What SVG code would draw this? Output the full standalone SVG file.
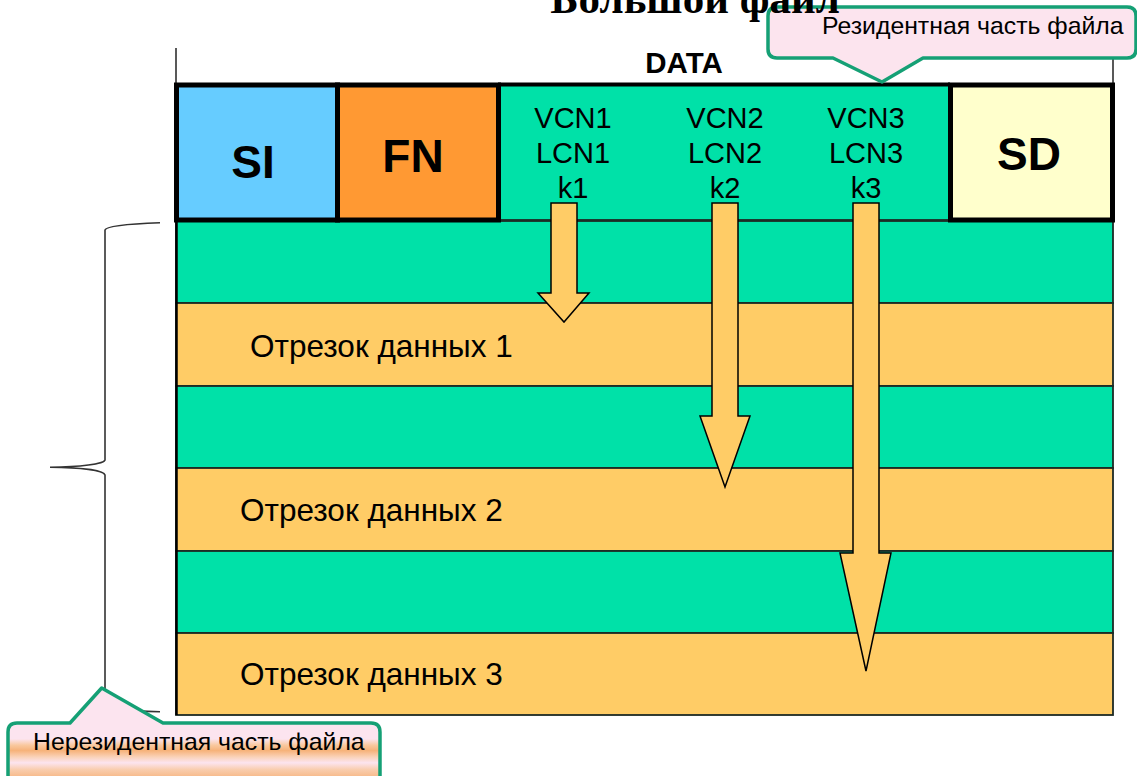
<svg xmlns="http://www.w3.org/2000/svg" width="1137" height="776" viewBox="0 0 1137 776">
<style>
.stripe-g{fill:#00E1A8;stroke:#1c2a24;stroke-width:1.8}
.stripe-o{fill:#FFCC66;stroke:#1c2a24;stroke-width:1.8}
.hdr{stroke:#000;stroke-width:5}
.big{font-family:"Liberation Sans",Arial,sans-serif;font-weight:bold;font-size:46px;fill:#000;text-anchor:middle}
.lbl{font-family:"Liberation Sans",Arial,sans-serif;font-size:29px;fill:#000;text-anchor:middle}
.seg{font-family:"Liberation Sans",Arial,sans-serif;font-size:31.5px;fill:#000}
.call{font-family:"Liberation Sans",Arial,sans-serif;font-size:24.8px;fill:#000}
.arrow{fill:#FFCC66;stroke:#000;stroke-width:1.5;stroke-linejoin:miter}
.callout{stroke:#15A075;stroke-width:3.5;stroke-linejoin:round}
.thin{stroke:#222;stroke-width:1.5;fill:none}
</style>
<defs>
<linearGradient id="gb" gradientUnits="userSpaceOnUse" x1="0" y1="723" x2="0" y2="776">
<stop offset="0" stop-color="#FCE4EF"/>
<stop offset="0.3" stop-color="#FCE4EF"/>
<stop offset="0.42" stop-color="#F9C89E"/>
<stop offset="0.52" stop-color="#F6B27A"/>
<stop offset="0.64" stop-color="#FAD2B8"/>
<stop offset="0.75" stop-color="#FCE4EF"/>
<stop offset="0.88" stop-color="#F9CDAE"/>
<stop offset="1" stop-color="#F7BC8E"/>
</linearGradient>
</defs>
<rect width="1137" height="776" fill="#fff"/>

<g id="frame-lines">
<line class="thin" x1="176" y1="48" x2="176" y2="84"/>
<line class="thin" x1="1113" y1="48" x2="1113" y2="84"/>
</g>

<g id="stripe1"><rect class="stripe-g" x="176" y="221" width="937" height="82"/></g>
<g id="seg1"><rect class="stripe-o" x="176" y="303" width="937" height="83"/><text class="seg" x="250" y="357">Отрезок данных 1</text></g>
<g id="stripe2"><rect class="stripe-g" x="176" y="386" width="937" height="82"/></g>
<g id="seg2"><rect class="stripe-o" x="176" y="468" width="937" height="83"/><text class="seg" x="240" y="521">Отрезок данных 2</text></g>
<g id="stripe3"><rect class="stripe-g" x="176" y="551" width="937" height="82"/></g>
<g id="seg3"><rect class="stripe-o" x="176" y="633" width="937" height="82"/><text class="seg" x="240" y="685">Отрезок данных 3</text></g>
<line x1="176.5" y1="221" x2="176.5" y2="715" stroke="#000" stroke-width="2.5"/>

<g id="data-label"><text class="big" x="684" y="73" style="font-size:29.5px">DATA</text></g>

<g id="data">
<rect x="498" y="85" width="452" height="135" fill="#00E1A8" stroke="#1c2a24" stroke-width="1.8"/>
<line x1="498" y1="84.5" x2="950" y2="84.5" stroke="#000" stroke-width="4"/>
<text class="lbl" x="573" y="128">VCN1</text>
<text class="lbl" x="573" y="163">LCN1</text>
<text class="lbl" x="573" y="198">k1</text>
<text class="lbl" x="725" y="128">VCN2</text>
<text class="lbl" x="725" y="163">LCN2</text>
<text class="lbl" x="725" y="198">k2</text>
<text class="lbl" x="866" y="128">VCN3</text>
<text class="lbl" x="866" y="163">LCN3</text>
<text class="lbl" x="866" y="198">k3</text>
</g>
<g id="SI"><rect class="hdr" x="176.5" y="85" width="161" height="135" fill="#66CCFF"/><text class="big" x="253" y="178">SI</text></g>
<g id="FN"><rect class="hdr" x="337.5" y="85" width="161" height="135" fill="#FF9933"/><text class="big" x="413" y="172">FN</text></g>
<g id="SD"><rect class="hdr" x="950.5" y="85" width="162" height="135" fill="#FFFFCC"/><text class="big" x="1029" y="170">SD</text></g>

<g id="connectors">
<path class="arrow" d="M551,203 H577 V293 H589 L564,322 L538,293 H551 Z"/>
<path class="arrow" d="M712,203 H738 V416 H750 L725,487 L700,416 H712 Z"/>
<path class="arrow" d="M853,203 H879 V553 H891 L866,671 L840,553 H853 Z"/>
</g>

<g id="brace">
<path d="M160,222.7 C125,224 106,226 105,230 V460 C104,464 80,467 50,467.3 C80,467.6 104,470 105,475 V703 C106,708 125,711 160,711.7" fill="none" stroke="#333" stroke-width="1.6"/>
</g>

<g id="callout-resident">
<path class="callout" fill="#FCE4EE" d="M777,7 H1127 Q1136,7 1136,16 V49 Q1136,58 1127,58 H923 L882,82 L833,58 H777 Q768,58 768,49 V16 Q768,7 777,7 Z"/>
<text class="call" x="822" y="34">Резидентная часть файла</text>
</g>

<g id="callout-nonresident">
<path class="callout" fill="url(#gb)" d="M17,723 H70 L101.7,688 L163,723 H371 Q380,723 380,732 V800 H8 V732 Q8,723 17,723 Z"/>
<text class="call" x="33" y="750">Нерезидентная часть файла</text>
</g>

<g id="title"><text x="695" y="13" text-anchor="middle" font-family="'Liberation Serif','Times New Roman',serif" font-weight="bold" font-size="43">Большой файл</text></g>
</svg>
